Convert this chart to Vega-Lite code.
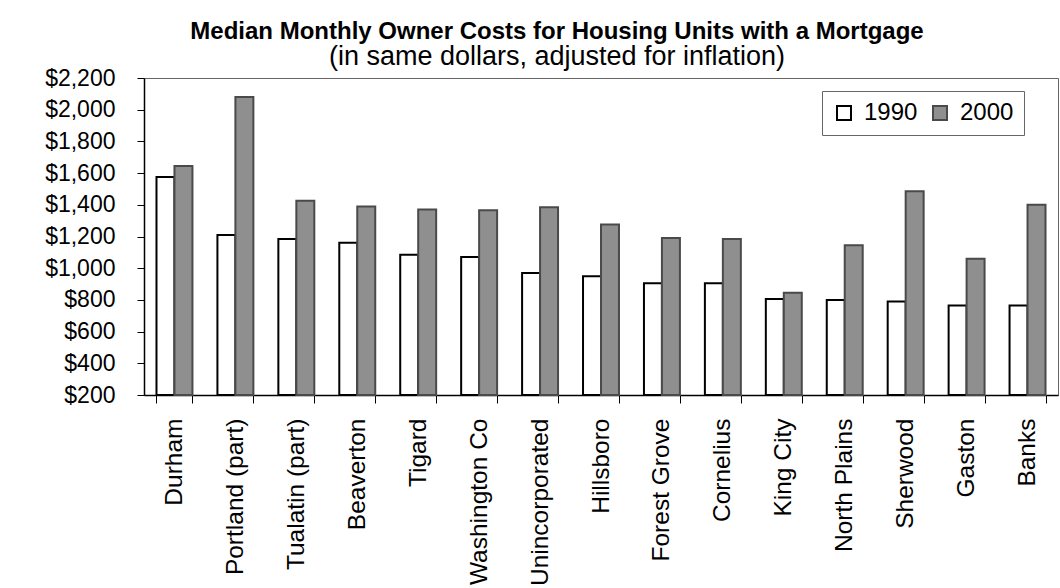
{
  "$schema": "https://vega.github.io/schema/vega-lite/v6.json",
  "autosize": "none",
  "padding": {"left": 144, "top": 78, "right": 2, "bottom": 193},
  "width": 914,
  "height": 317,
  "background": "white",
  "title": {
    "text": "Median Monthly Owner Costs for Housing Units with a Mortgage",
    "subtitle": "(in same dollars, adjusted for inflation)",
    "anchor": "middle",
    "frame": "group",
    "dx": -44,
    "offset": -3,
    "font": "Liberation Sans, Arial, sans-serif",
    "fontSize": 24,
    "fontWeight": "bold",
    "color": "black",
    "subtitleFont": "Liberation Sans, Arial, sans-serif",
    "subtitleFontSize": 27,
    "subtitleColor": "black",
    "subtitlePadding": 0
  },
  "config": {
    "font": "Liberation Sans, Arial, sans-serif",
    "view": {"stroke": "#666", "strokeWidth": 1},
    "axis": {"labelColor": "black", "domainColor": "black", "tickColor": "black", "labelFont": "Liberation Sans, Arial, sans-serif"}
  },
  "data": {
    "values": [
      {"place": "Durham", "year": "1990", "cost": 1575},
      {"place": "Durham", "year": "2000", "cost": 1645},
      {"place": "Portland (part)", "year": "1990", "cost": 1210},
      {"place": "Portland (part)", "year": "2000", "cost": 2080},
      {"place": "Tualatin (part)", "year": "1990", "cost": 1185},
      {"place": "Tualatin (part)", "year": "2000", "cost": 1425},
      {"place": "Beaverton", "year": "1990", "cost": 1160},
      {"place": "Beaverton", "year": "2000", "cost": 1390},
      {"place": "Tigard", "year": "1990", "cost": 1085},
      {"place": "Tigard", "year": "2000", "cost": 1370},
      {"place": "Washington Co", "year": "1990", "cost": 1070},
      {"place": "Washington Co", "year": "2000", "cost": 1365},
      {"place": "Unincorporated", "year": "1990", "cost": 970},
      {"place": "Unincorporated", "year": "2000", "cost": 1385},
      {"place": "Hillsboro", "year": "1990", "cost": 950},
      {"place": "Hillsboro", "year": "2000", "cost": 1275},
      {"place": "Forest Grove", "year": "1990", "cost": 905},
      {"place": "Forest Grove", "year": "2000", "cost": 1190},
      {"place": "Cornelius", "year": "1990", "cost": 905},
      {"place": "Cornelius", "year": "2000", "cost": 1185},
      {"place": "King City", "year": "1990", "cost": 805},
      {"place": "King City", "year": "2000", "cost": 845},
      {"place": "North Plains", "year": "1990", "cost": 800},
      {"place": "North Plains", "year": "2000", "cost": 1145},
      {"place": "Sherwood", "year": "1990", "cost": 790},
      {"place": "Sherwood", "year": "2000", "cost": 1485},
      {"place": "Gaston", "year": "1990", "cost": 765},
      {"place": "Gaston", "year": "2000", "cost": 1060},
      {"place": "Banks", "year": "1990", "cost": 765},
      {"place": "Banks", "year": "2000", "cost": 1400}
    ]
  },
  "mark": {"type": "bar", "strokeWidth": 2},
  "encoding": {
    "x": {
      "field": "place",
      "type": "nominal",
      "sort": null,
      "scale": {"paddingInner": 0.41, "paddingOuter": 0.205},
      "axis": {
        "title": null,
        "labelAngle": -90,
        "labelAlign": "right",
        "labelBaseline": "middle",
        "labelFontSize": 24.5,
        "labelPadding": 15,
        "tickBand": "extent",
        "tickSize": 8,
        "tickWidth": 1,
        "domainWidth": 1.5,
        "labelLimit": 300
      }
    },
    "xOffset": {"field": "year", "type": "nominal", "scale": {"paddingInner": 0, "paddingOuter": 0}},
    "y": {
      "field": "cost",
      "type": "quantitative",
      "scale": {"domain": [200, 2200], "nice": false, "zero": false},
      "axis": {
        "title": null,
        "values": [200, 400, 600, 800, 1000, 1200, 1400, 1600, 1800, 2000, 2200],
        "format": "$,.0f",
        "grid": false,
        "labelFontSize": 23,
        "labelPadding": 22,
        "tickSize": 7,
        "domainWidth": 1.5
      }
    },
    "y2": {"datum": 200},
    "fill": {
      "field": "year",
      "type": "nominal",
      "scale": {"domain": ["1990", "2000"], "range": ["#ffffff", "#8f8f8f"]},
      "legend": {
        "title": null,
        "orient": "none",
        "legendX": 678,
        "legendY": 13,
        "direction": "horizontal",
        "strokeColor": "#666",
        "fillColor": "white",
        "padding": 10,
        "labelFontSize": 24,
        "labelColor": "black",
        "symbolType": "square",
        "symbolSize": 196,
        "symbolStrokeWidth": 2,
        "labelOffset": 8,
        "columnPadding": 10
      }
    },
    "stroke": {
      "field": "year",
      "type": "nominal",
      "scale": {"domain": ["1990", "2000"], "range": ["#000000", "#4a4a4a"]},
      "legend": null
    }
  }
}
